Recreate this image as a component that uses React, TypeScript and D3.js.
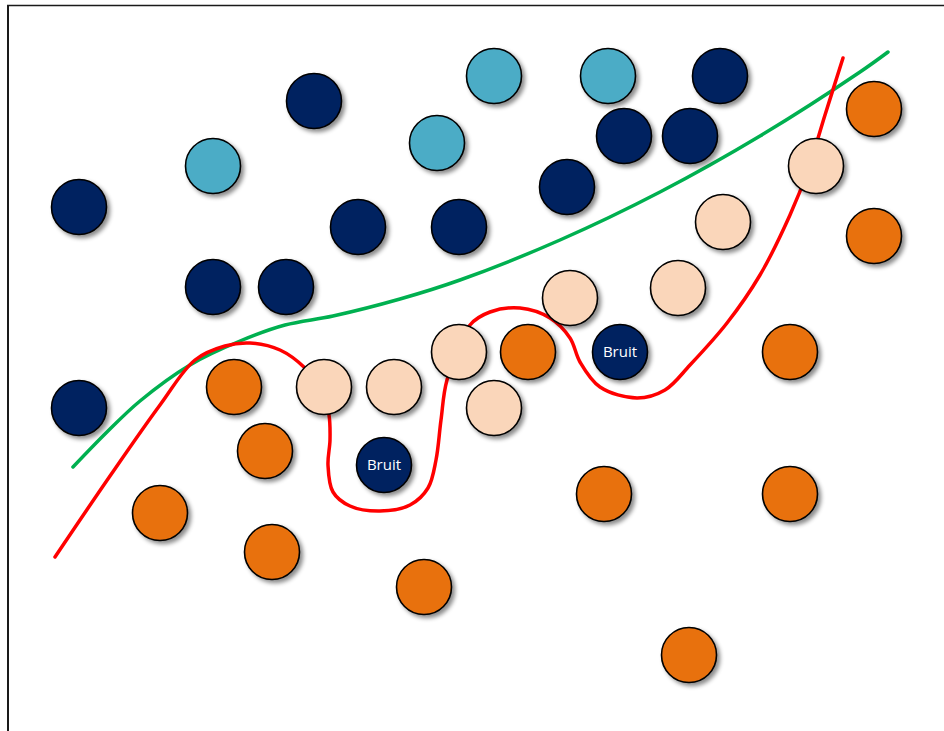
import React from "react";
import * as d3 from "d3";

// Data space: x in [0, 936] (left→right), y in [0, 726] (bottom→top)
const navyPoints: [number, number][] = [
  [71, 524], [306, 630], [205, 444], [278, 444], [350, 504], [451, 504],
  [559, 544], [616, 595], [682, 595], [712, 655], [71, 323],
];
const noisePoints: [number, number][] = [[376, 266], [612, 379]];
const lightBluePoints: [number, number][] = [[205, 565], [429, 588], [486, 655], [600, 655]];
const peachPoints: [number, number][] = [
  [316, 344], [386, 344], [451, 379], [486, 323], [562, 433], [670, 443], [715, 509], [808, 565],
];
const orangePoints: [number, number][] = [
  [866, 622], [866, 495], [226, 344], [257, 280], [152, 218], [264, 179],
  [416, 144], [520, 379], [596, 237], [782, 379], [782, 237], [681, 76],
];
const greenBoundary: [number, number][] = [
  [65, 264], [99, 299], [132, 330], [182, 366], [232, 390], [277, 406], [325, 415],
  [392, 432], [452, 451], [552, 491], [652, 539], [752, 595], [852, 659], [880, 679],
];
const redBoundary: [number, number][] = [
  [47, 174], [102, 255], [152, 326], [187, 371], [217, 385], [242, 388], [272, 381],
  [297, 363], [314, 341], [321, 316], [322, 291], [320, 266], [325, 239], [342, 225],
  [372, 220], [402, 226], [420, 243], [428, 271], [433, 311], [439, 351], [462, 406],
  [482, 419], [512, 423], [542, 413], [562, 393], [572, 369], [592, 344], [629, 333],
  [657, 341], [682, 366], [719, 408], [752, 456], [782, 516], [800, 561], [817, 616], [835, 673],
];
const noiseLabel = "Bruit";

const W = 944;
const H = 731;

export default function App() {
  const x = d3.scaleLinear().domain([0, 936]).range([8, 944]);
  const y = d3.scaleLinear().domain([0, 726]).range([731, 5]);
  const line = d3
    .line<[number, number]>()
    .x((d) => x(d[0]))
    .y((d) => y(d[1]))
    .curve(d3.curveCatmullRom.alpha(0.5));
  const r = 27.5;

  const groups: { pts: [number, number][]; fill: string; label?: string }[] = [
    { pts: navyPoints, fill: "#002060" },
    { pts: lightBluePoints, fill: "#4BACC6" },
    { pts: peachPoints, fill: "#FAD6BA" },
    { pts: orangePoints, fill: "#E8710F" },
    { pts: noisePoints, fill: "#002060", label: noiseLabel },
  ];

  return (
    <svg
      width={W}
      height={H}
      style={{ position: "absolute", left: 0, top: 0, background: "#fff" }}
    >
      <defs>
        <filter id="sh" x="-30%" y="-30%" width="170%" height="170%">
          <feDropShadow dx="3" dy="3" stdDeviation="2" floodColor="#000" floodOpacity="0.45" />
        </filter>
      </defs>
      <line x1={7} x2={944} y1={5.5} y2={5.5} stroke="#1a1a1a" strokeWidth={1.5} />
      <line x1={8} x2={8} y1={5} y2={731} stroke="#1a1a1a" strokeWidth={2} />
      <path d={line(greenBoundary) || ""} fill="none" stroke="#00B050" strokeWidth={3.5} strokeLinecap="round" />
      <path d={line(redBoundary) || ""} fill="none" stroke="#FF0000" strokeWidth={3.5} strokeLinecap="round" />
      {groups.map((g, gi) =>
        g.pts.map((p, i) => (
          <g key={`${gi}-${i}`}>
            <circle
              cx={x(p[0])}
              cy={y(p[1])}
              r={r}
              fill={g.fill}
              stroke="#000"
              strokeWidth={1.6}
              filter="url(#sh)"
            />
            {g.label && (
              <text
                x={x(p[0])}
                y={y(p[1])}
                dy="0.35em"
                textAnchor="middle"
                fill="#fff"
                fontFamily="'Open Sans', 'Noto Sans', sans-serif"
                fontSize={15}
              >
                {g.label}
              </text>
            )}
          </g>
        ))
      )}
    </svg>
  );
}
